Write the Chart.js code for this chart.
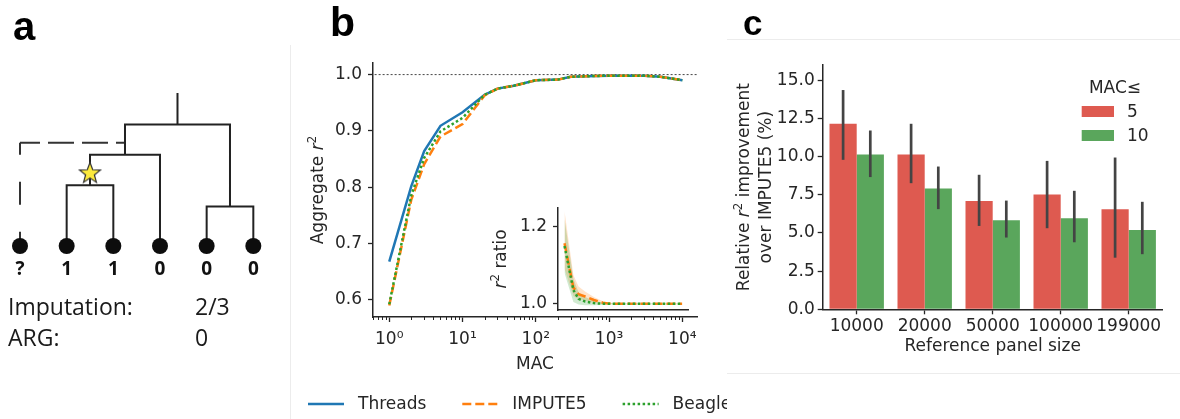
<!DOCTYPE html>
<html><head><meta charset="utf-8">
<script src="https://cdn.jsdelivr.net/npm/chart.js@4.4.1/dist/chart.umd.min.js"></script>
<style>
html,body{margin:0;padding:0;background:#fff;}
body{width:1180px;height:419px;overflow:hidden;position:relative;}
canvas{position:absolute;display:block;}
.t{position:absolute;white-space:nowrap;line-height:1;}
.pl{font-family:'Liberation Sans',Arial,sans-serif;font-weight:700;color:#000;}
.os{font-family:'Open Sans',sans-serif;font-size:23px;color:#1a1a1a;}
.sep{position:absolute;background:#ececec;}
</style></head><body>
<div class="sep" style="left:290px;top:45px;width:1px;height:374px"></div>
<div class="sep" style="left:727px;top:39px;width:453px;height:1px"></div>
<div class="sep" style="left:727px;top:373px;width:453px;height:1px"></div>
<canvas id="cA" width="290" height="419" style="left:0;top:0"></canvas>
<canvas id="cB" width="437" height="419" style="left:290px;top:0"></canvas>
<canvas id="cI" width="230" height="140" style="left:470px;top:190px"></canvas>
<canvas id="cC" width="450" height="419" style="left:730px;top:0"></canvas>
<div class="t pl" style="left:13px;top:6px;font-size:40px">a</div>
<div class="t pl" style="left:330px;top:2px;font-size:41px">b</div>
<div class="t pl" style="left:743px;top:5px;font-size:35px">c</div>
<div class="t os" style="left:8px;top:295px">Imputation:</div>
<div class="t os" style="left:195px;top:295px">2/3</div>
<div class="t os" style="left:8px;top:326px">ARG:</div>
<div class="t os" style="left:195px;top:326px">0</div>
<script>
// ================= DATA =================
// Panel a: genealogy (leaf states, clades, heights)
const leafStates = ['?', '1', '1', '0', '0', '0'];
const cladeNames = ['A', 'B', 'C', 'R'];
const cladeLeft = ['L1', 'A', 'L4', 'B'];
const cladeRight = ['L2', 'L3', 'L5', 'C'];
const cladeHeight = [2.0, 3.0, 1.3, 4.0];
const rootStemTop = 5.0;
const threadTarget = 'B';
const threadHeight = 3.4;
const mutationClade = 'A';
const mutationHeight = 2.42;

// Panel b: aggregate r^2 by MAC
const macBins = [1, 2, 3, 5, 10, 20, 30, 50, 100, 200, 300, 500, 1000, 2000, 3000, 5000, 10000];
const threadsR2 = [0.668, 0.802, 0.864, 0.909, 0.933, 0.964, 0.975, 0.980, 0.990, 0.991, 0.996, 0.997, 0.998, 0.998, 0.998, 0.996, 0.990];
const impute5R2 = [0.590, 0.778, 0.841, 0.890, 0.912, 0.963, 0.975, 0.980, 0.990, 0.991, 0.996, 0.997, 0.998, 0.998, 0.998, 0.996, 0.990];
const beagleR2  = [0.592, 0.786, 0.852, 0.899, 0.923, 0.964, 0.975, 0.980, 0.990, 0.991, 0.996, 0.997, 0.998, 0.998, 0.998, 0.996, 0.990];
const perfectR2 = 1.0;
const r2Ticks = [0.6, 0.7, 0.8, 0.9, 1.0];
const macTicks = [1, 10, 100, 1000, 10000];
const macTickLabels = ['10\u2070', '10\u00B9', '10\u00B2', '10\u00B3', '10\u2074'];

// Panel b inset: r^2 ratio (Threads / other) with bands
const ratioImpute5     = [1.157, 1.042, 1.025, 1.019, 1.010, 1.003, 1.001, 1.000, 1.000, 1.000, 1.000, 1.000, 1.000, 1.000, 1.000, 1.000, 1.000];
const ratioImpute5Low  = [1.090, 1.020, 1.012, 1.008, 1.002, 0.999, 0.999, 0.999, 0.999, 0.999, 0.999, 0.999, 0.999, 0.999, 0.999, 0.999, 0.999];
const ratioImpute5High = [1.240, 1.075, 1.045, 1.032, 1.018, 1.007, 1.003, 1.002, 1.001, 1.001, 1.001, 1.001, 1.001, 1.001, 1.001, 1.001, 1.001];
const ratioBeagle      = [1.150, 1.036, 1.013, 1.006, 1.002, 1.000, 1.000, 1.000, 1.000, 1.000, 1.000, 1.000, 1.000, 1.000, 1.000, 1.000, 1.000];
const ratioBeagleLow   = [1.080, 1.005, 0.998, 0.996, 0.996, 0.997, 0.998, 0.999, 0.999, 0.999, 0.999, 0.999, 0.999, 0.999, 0.999, 0.999, 0.999];
const ratioBeagleHigh  = [1.220, 1.065, 1.030, 1.018, 1.008, 1.003, 1.002, 1.001, 1.001, 1.001, 1.001, 1.001, 1.001, 1.001, 1.001, 1.001, 1.001];
const ratioTicks = [1.0, 1.2];

// Panel c: relative improvement over IMPUTE5 (%)
const panelSizes = ['10000', '20000', '50000', '100000', '199000'];
const macGroups = ['5', '10'];
const improveMac5  = [12.15, 10.14, 7.10, 7.52, 6.56];
const improveMac10 = [10.14, 7.91, 5.84, 5.97, 5.20];
const ciLowMac5   = [9.79, 8.26, 5.46, 5.31, 3.38];
const ciHighMac5  = [14.36, 12.15, 8.81, 9.72, 9.94];
const ciLowMac10  = [8.66, 6.56, 4.70, 4.39, 3.61];
const ciHighMac10 = [11.71, 9.35, 7.12, 7.76, 7.04];
const improveTicks = [0, 2.5, 5, 7.5, 10, 12.5, 15];

// ================= STYLE / HELPERS =================
const TXT = '#262626';
const FONT = 'DejaVu Sans';
Chart.defaults.font.family = FONT;
Chart.defaults.font.size = 17;
Chart.defaults.color = TXT;
const C_THREADS = '#1f77b4', C_IMP = '#ff7f0e', C_BEA = '#2ca02c';
const C_RED = '#de5a50', C_GREEN = '#5aa65c';
const DASH_IMP = [9, 4], DASH_BEA = [2.5, 2.5];
const pts = (xs, ys) => xs.map((x, i) => ({x: x, y: ys[i]}));

function drawRich(ctx, parts, cx, cy, size, rot) {
  ctx.save();
  ctx.translate(cx, cy); ctx.rotate(rot);
  const fonts = parts.map(p => (p.it ? 'italic ' : '') + (p.sup ? size * 0.7 : size) + 'px "' + FONT + '"');
  let w = 0;
  const ws = parts.map((p, i) => { ctx.font = fonts[i]; const m = ctx.measureText(p.t).width; w += m; return m; });
  let x = -w / 2;
  ctx.fillStyle = TXT; ctx.textAlign = 'left'; ctx.textBaseline = 'alphabetic';
  parts.forEach((p, i) => {
    ctx.font = fonts[i];
    ctx.fillText(p.t, x, size * 0.36 - (p.sup ? size * 0.42 : 0));
    x += ws[i];
  });
  ctx.restore();
}
function fixTicks(vals) { return s => { s.ticks = vals.map(v => ({value: v})); }; }
const axisGrid = {drawOnChartArea: false, tickLength: 5, tickColor: TXT, tickWidth: 1.3};
const axisBorder = {color: TXT, width: 1.5};

// ================= PANEL A =================
(function () {
  const pos = {};
  leafStates.forEach((s, i) => { pos['L' + i] = {x: i, h: 0}; });
  cladeNames.forEach((n, i) => {
    const a = pos[cladeLeft[i]], b = pos[cladeRight[i]];
    pos[n] = {x: (a.x + b.x) / 2, h: cladeHeight[i]};
  });
  const treePts = [];
  cladeNames.forEach((n, i) => {
    const a = pos[cladeLeft[i]], b = pos[cladeRight[i]], h = cladeHeight[i];
    treePts.push({x: a.x, y: a.h}, {x: a.x, y: h}, {x: b.x, y: h}, {x: b.x, y: b.h}, {x: null, y: null});
  });
  const root = pos[cladeNames[cladeNames.length - 1]];
  treePts.push({x: root.x, y: root.h}, {x: root.x, y: rootStemTop});
  const q = pos['L0'], tgt = pos[threadTarget];

  const star = document.createElement('canvas');
  star.width = 26; star.height = 26;
  const g = star.getContext('2d');
  g.beginPath();
  for (let i = 0; i < 10; i++) {
    const r = i % 2 ? 4.6 : 11, a = -Math.PI / 2 + i * Math.PI / 5;
    g.lineTo(13 + r * Math.cos(a), 14 + r * Math.sin(a));
  }
  g.closePath(); g.fillStyle = '#fbe93c'; g.fill();
  g.strokeStyle = '#333'; g.lineWidth = 1.2; g.stroke();

  new Chart(document.getElementById('cA'), {
    type: 'scatter',
    data: {datasets: [
      {data: treePts, showLine: true, spanGaps: false, borderColor: '#222', borderWidth: 2, pointRadius: 0, borderCapStyle: 'square', order: 5},
      {data: [{x: tgt.x, y: threadHeight}, {x: q.x, y: threadHeight}], showLine: true, borderColor: '#333', borderWidth: 2, borderDash: [26, 8], borderDashOffset: 17, pointRadius: 0, order: 5},
      {data: [{x: q.x, y: threadHeight}, {x: q.x, y: 0}], showLine: true, borderColor: '#333', borderWidth: 2, borderDash: [23, 27], borderDashOffset: 11, pointRadius: 0, order: 5},
      {data: leafStates.map((s, i) => ({x: pos['L' + i].x, y: 0})), pointRadius: 8, pointBackgroundColor: '#0d0d0d', pointBorderWidth: 0, order: 1},
      {data: [{x: pos[mutationClade].x, y: mutationHeight}], pointStyle: star, pointRadius: 10, order: 0}
    ]},
    options: {
      responsive: false, animation: false, devicePixelRatio: 1,
      layout: {padding: 0, autoPadding: false},
      plugins: {legend: {display: false}, tooltip: {enabled: false}},
      scales: {
        x: {type: 'linear', display: false, min: -0.4286, max: 5.786},
        y: {type: 'linear', display: false, min: -5.691, max: 8.092}
      }
    },
    plugins: [{
      id: 'leafLabels',
      afterDatasetsDraw(chart) {
        const ctx = chart.ctx, xs = chart.scales.x, ys = chart.scales.y;
        ctx.save();
        ctx.font = '700 19px "Open Sans"'; ctx.fillStyle = '#111';
        ctx.textAlign = 'center'; ctx.textBaseline = 'alphabetic';
        leafStates.forEach((s, i) => ctx.fillText(s, xs.getPixelForValue(i), ys.getPixelForValue(0) + 29));
        ctx.restore();
      }
    }]
  });
})();

// ================= PANEL B (main) =================
const X_MIN = Math.pow(10, -0.2), X_MAX = Math.pow(10, 4.2);
const legendItems = [
  {label: 'Threads', color: C_THREADS, dash: []},
  {label: 'IMPUTE5', color: C_IMP, dash: DASH_IMP},
  {label: 'Beagle', color: C_BEA, dash: DASH_BEA}
];
new Chart(document.getElementById('cB'), {
  type: 'line',
  data: {datasets: [
    {label: 'Threads', data: pts(macBins, threadsR2), borderColor: C_THREADS, borderWidth: 2.5, pointRadius: 0, order: 2},
    {label: 'IMPUTE5', data: pts(macBins, impute5R2), borderColor: C_IMP, borderWidth: 2.5, borderDash: DASH_IMP, pointRadius: 0, order: 1},
    {label: 'Beagle', data: pts(macBins, beagleR2), borderColor: C_BEA, borderWidth: 2.5, borderDash: DASH_BEA, pointRadius: 0, order: 0},
    {label: 'ref', data: [{x: X_MIN, y: perfectR2}, {x: X_MAX, y: perfectR2}], borderColor: '#555', borderWidth: 1.1, borderDash: [2, 2], pointRadius: 0, order: 5}
  ]},
  options: {
    responsive: false, animation: false, devicePixelRatio: 1,
    layout: {padding: {left: 0, top: 63, right: 30, bottom: 44}, autoPadding: false},
    plugins: {legend: {display: false}, tooltip: {enabled: false}},
    scales: {
      x: {
        type: 'logarithmic', min: X_MIN, max: X_MAX,
        afterBuildTicks: fixTicks(macTicks),
        afterFit: s => { s.height = 58; },
        ticks: {callback: (v, i) => macTickLabels[i], padding: 7.5, maxRotation: 0, autoSkip: false, color: TXT},
        grid: axisGrid, border: axisBorder,
        title: {display: true, text: 'MAC', color: TXT, padding: 0}
      },
      y: {
        type: 'linear', min: 0.5695, max: 1.0205,
        afterBuildTicks: fixTicks(r2Ticks),
        afterFit: s => { s.width = 83; },
        ticks: {callback: v => v.toFixed(1), padding: 6, color: TXT},
        grid: axisGrid, border: axisBorder
      }
    }
  },
  plugins: [{
    id: 'extrasB',
    afterDraw(chart) {
      const ctx = chart.ctx, s = chart.scales.x, a = chart.chartArea;
      ctx.save();
      ctx.strokeStyle = TXT; ctx.lineWidth = 1;
      for (let k = -1; k <= 4; k++) for (let m = 2; m <= 9; m++) {
        const v = m * Math.pow(10, k);
        if (v < s.min || v > s.max) continue;
        const px = Math.round(s.getPixelForValue(v)) + 0.5;
        ctx.beginPath(); ctx.moveTo(px, a.bottom); ctx.lineTo(px, a.bottom + 3); ctx.stroke();
      }
      ctx.restore();
      drawRich(ctx, [{t: 'Aggregate '}, {t: 'r', it: true}, {t: '2', sup: true}], a.left - 56, (a.top + a.bottom) / 2, 17, -Math.PI / 2);
      ctx.save();
      ctx.font = '17px "' + FONT + '"'; ctx.textBaseline = 'middle'; ctx.textAlign = 'left';
      let x = 18; const y = 404;
      legendItems.forEach(it => {
        ctx.strokeStyle = it.color; ctx.lineWidth = 2.5; ctx.setLineDash(it.dash);
        ctx.beginPath(); ctx.moveTo(x, y); ctx.lineTo(x + 36, y); ctx.stroke();
        ctx.setLineDash([]); ctx.fillStyle = TXT;
        ctx.fillText(it.label, x + 50, y + 1);
        x += 50 + ctx.measureText(it.label).width + 36;
      });
      ctx.restore();
    }
  }]
});

// ================= PANEL B (inset) =================
new Chart(document.getElementById('cI'), {
  type: 'line',
  data: {datasets: [
    {data: pts(macBins, ratioImpute5Low), borderWidth: 0, pointRadius: 0, fill: false, order: 10},
    {data: pts(macBins, ratioImpute5High), borderWidth: 0, pointRadius: 0, fill: '-1', backgroundColor: 'rgba(255,127,14,0.22)', order: 10},
    {data: pts(macBins, ratioBeagleLow), borderWidth: 0, pointRadius: 0, fill: false, order: 9},
    {data: pts(macBins, ratioBeagleHigh), borderWidth: 0, pointRadius: 0, fill: '-1', backgroundColor: 'rgba(44,160,44,0.22)', order: 9},
    {data: pts(macBins, ratioImpute5), borderColor: C_IMP, borderWidth: 2.5, borderDash: DASH_IMP, pointRadius: 0, fill: false, order: 1},
    {data: pts(macBins, ratioBeagle), borderColor: C_BEA, borderWidth: 2.5, borderDash: DASH_BEA, pointRadius: 0, fill: false, order: 0}
  ]},
  options: {
    responsive: false, animation: false, devicePixelRatio: 1,
    layout: {padding: {left: 0, top: 18, right: 12, bottom: 20}, autoPadding: false},
    plugins: {legend: {display: false}, tooltip: {enabled: false}},
    scales: {
      x: {
        type: 'logarithmic', min: X_MIN, max: X_MAX,
        ticks: {display: false},
        grid: {drawOnChartArea: false, drawTicks: false},
        border: axisBorder,
        afterFit: s => { s.height = 0; }
      },
      y: {
        type: 'linear', min: 0.984, max: 1.2485,
        afterBuildTicks: fixTicks(ratioTicks),
        afterFit: s => { s.width = 88; },
        ticks: {callback: v => v.toFixed(1), padding: 6, color: TXT},
        grid: axisGrid, border: axisBorder
      }
    }
  },
  plugins: [{
    id: 'insetTitle',
    afterDraw(chart) {
      const a = chart.chartArea;
      drawRich(chart.ctx, [{t: 'r', it: true}, {t: '2', sup: true}, {t: ' ratio'}], a.left - 58, (a.top + a.bottom) / 2, 17, -Math.PI / 2);
    }
  }]
});

// ================= PANEL C =================
new Chart(document.getElementById('cC'), {
  type: 'bar',
  data: {labels: panelSizes, datasets: [
    {label: macGroups[0], data: improveMac5, backgroundColor: C_RED, categoryPercentage: 0.8, barPercentage: 1.0},
    {label: macGroups[1], data: improveMac10, backgroundColor: C_GREEN, categoryPercentage: 0.8, barPercentage: 1.0}
  ]},
  options: {
    responsive: false, animation: false, devicePixelRatio: 1,
    layout: {padding: {left: 0, top: 65, right: 17.3, bottom: 62.7}, autoPadding: false},
    plugins: {legend: {display: false}, tooltip: {enabled: false}},
    scales: {
      x: {
        grid: Object.assign({offset: false}, axisGrid), border: axisBorder,
        ticks: {padding: 2.5, maxRotation: 0, autoSkip: false, color: TXT},
        title: {display: true, text: 'Reference panel size', color: TXT, padding: 0},
        afterFit: s => { s.height = 47; }
      },
      y: {
        min: 0, max: 16,
        afterBuildTicks: fixTicks(improveTicks),
        afterFit: s => { s.width = 92.7; },
        ticks: {callback: v => v.toFixed(1), padding: 3, color: TXT},
        grid: axisGrid, border: axisBorder
      }
    }
  },
  plugins: [{
    id: 'errLegend',
    afterDatasetsDraw(chart) {
      const ctx = chart.ctx, y = chart.scales.y;
      ctx.save();
      ctx.strokeStyle = '#444'; ctx.lineWidth = 2.7; ctx.lineCap = 'butt';
      [[0, ciLowMac5, ciHighMac5], [1, ciLowMac10, ciHighMac10]].forEach(([di, lo, hi]) => {
        chart.getDatasetMeta(di).data.forEach((bar, i) => {
          ctx.beginPath();
          ctx.moveTo(bar.x, y.getPixelForValue(lo[i]));
          ctx.lineTo(bar.x, y.getPixelForValue(hi[i]));
          ctx.stroke();
        });
      });
      ctx.restore();
    },
    afterDraw(chart) {
      const ctx = chart.ctx, a = chart.chartArea;
      const lines = [[{t: 'Relative '}, {t: 'r', it: true}, {t: '2', sup: true}, {t: ' improvement'}], [{t: 'over IMPUTE5 (%)'}]];
      drawRich(ctx, lines[0], a.left - 79.5, (a.top + a.bottom) / 2, 17, -Math.PI / 2);
      drawRich(ctx, lines[1], a.left - 57.5, (a.top + a.bottom) / 2, 17, -Math.PI / 2);
      ctx.save();
      ctx.font = '17px "' + FONT + '"'; ctx.fillStyle = TXT; ctx.textBaseline = 'middle';
      ctx.textAlign = 'center';
      ctx.fillText('MAC\u2264', a.right - 47.7, a.top + 24);
      ctx.textAlign = 'left';
      chart.data.datasets.forEach((ds, i) => {
        const top = a.top + 41 + i * 24;
        ctx.fillStyle = ds.backgroundColor;
        ctx.fillRect(a.right - 81, top, 32.3, 11);
        ctx.fillStyle = TXT;
        ctx.fillText(ds.label, a.right - 35.7, top + 6.5);
      });
      ctx.restore();
    }
  }]
});
</script>
</body></html>
